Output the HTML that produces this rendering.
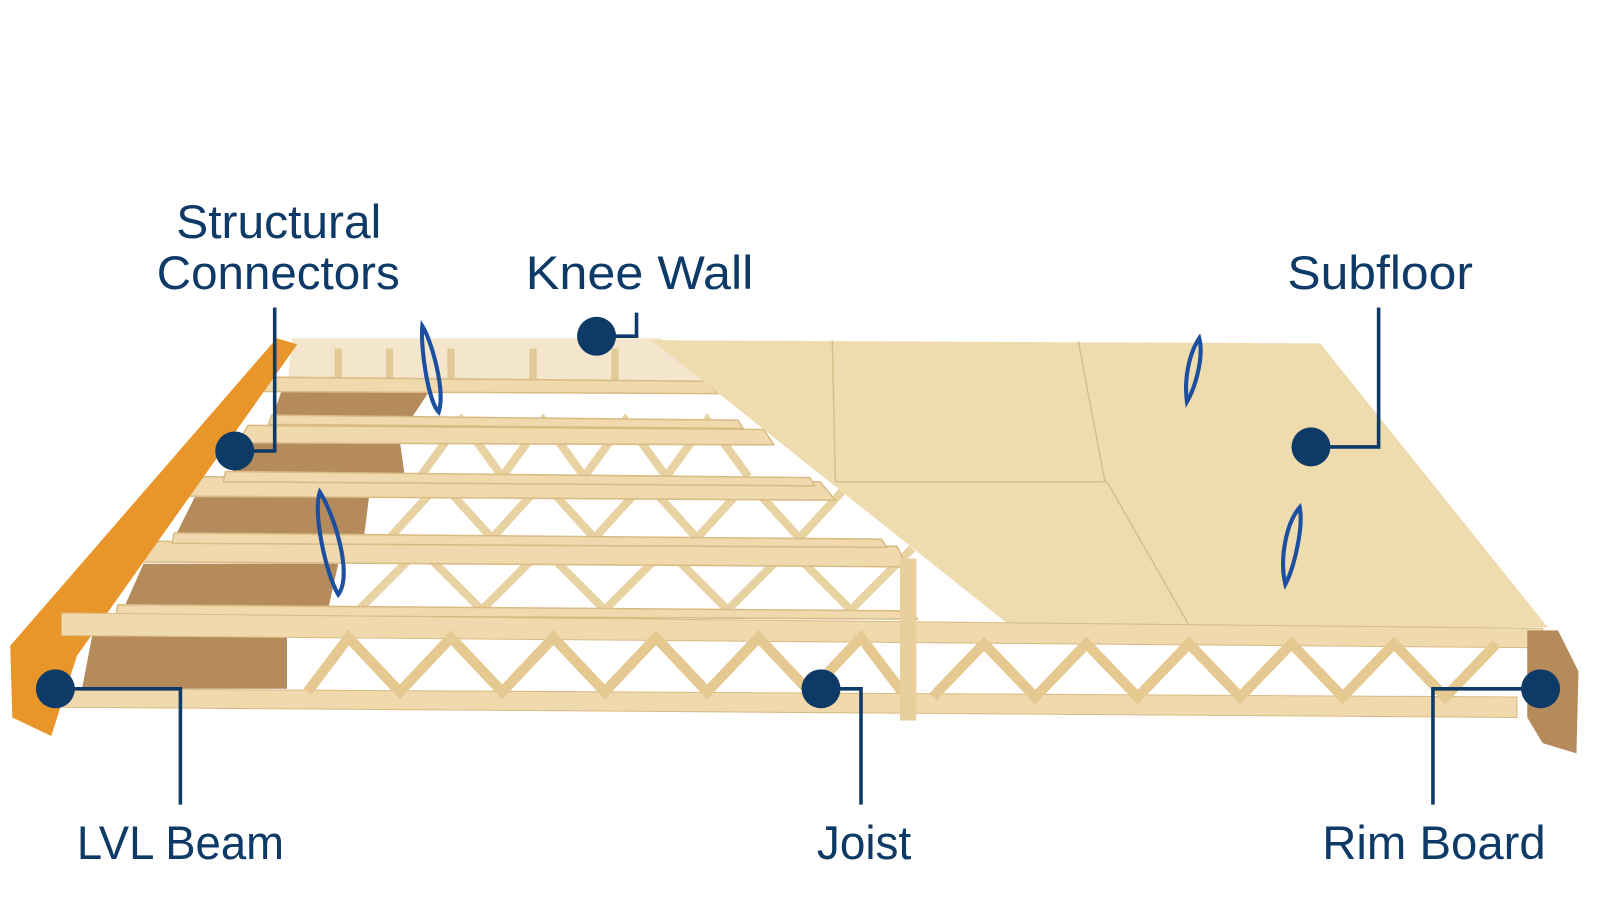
<!DOCTYPE html>
<html><head><meta charset="utf-8"><style>
html,body{margin:0;padding:0;background:#fff;}
svg{display:block}
text{font-family:"Liberation Sans",sans-serif;fill:#0d3a66;font-size:46px;}
</style></head><body>
<svg width="1600" height="900" viewBox="0 0 1600 900" xmlns="http://www.w3.org/2000/svg">
<g transform="scale(1.025)">
<!-- back knee wall -->
<polygon points="285,330 645,330 700,380 280,380" fill="#f3e6cc"/>
<g stroke="#e2c995" stroke-width="7">
<line x1="330" y1="340" x2="330" y2="372"/><line x1="380" y1="340" x2="380" y2="372"/><line x1="440" y1="340" x2="440" y2="372"/><line x1="520" y1="340" x2="520" y2="372"/><line x1="600" y1="340" x2="600" y2="372"/>
</g>
<!-- OSB blocks -->
<polygon points="275,380 420,380 400,410 265,410" fill="#b58b5c"/>
<polygon points="240,430 390,430 395,465 225,465" fill="#b58b5c"/>
<polygon points="190,485 360,485 355,525 170,525" fill="#b58b5c"/>
<polygon points="140,550 330,550 320,595 120,595" fill="#b58b5c"/>
<polygon points="90,620 280,620 280,672 80,672" fill="#b58b5c"/>
<!-- webs of inner joists -->
<g stroke="#e9d2a2" stroke-width="8" fill="none">
<polyline points="410,465 450,410 490,465 530,410 570,465 610,410 650,465 690,410 730,465"/>
<polyline points="380,525 430,470 480,525 530,470 580,525 630,470 680,525 730,470 780,525 830,470"/>
<polyline points="350,595 410,535 470,595 530,535 590,595 650,535 710,595 770,535 830,595 890,535"/>
</g>
<!-- inner joist chords -->
<g fill="#efd9ad" stroke="#d9bb84" stroke-width="1.5">
<polygon points="265,368 690,372 700,384 255,382"/>
<polygon points="242,415 745,419 755,434 232,432"/>
<polygon points="190,465 800,470 815,488 178,484"/>
<polygon points="135,528 875,533 885,553 122,548"/>
<polygon points="265,405 720,410 725,418 262,414"/>
<polygon points="220,460 790,466 795,474 218,470"/>
<polygon points="170,520 860,526 865,534 168,530"/>
<polygon points="115,590 890,596 895,604 113,600"/>
</g>
<!-- subfloor -->
<polygon points="636,332 1288,335 1510,612 985,610" fill="#eedcae"/>
<g stroke="#d8bf88" stroke-width="1.5" fill="none">
<line x1="812" y1="332" x2="815" y2="470"/><line x1="1052" y1="333" x2="1078" y2="470"/>
<line x1="815" y1="470" x2="1080" y2="470"/><line x1="1080" y1="470" x2="1160" y2="610"/>
</g>
<!-- LVL beam -->
<polygon points="270,330 290,336 75,640 50,718 12,700 10,630" fill="#e8962a"/>
<!-- front joist -->
<polygon points="60,598 1505,613 1505,632 60,620" fill="#efd9ad" stroke="#d9bb84"/>
<polygon points="60,672 1480,680 1480,700 60,690" fill="#efd9ad" stroke="#d9bb84"/>
<g stroke="#e5c991" stroke-width="10" fill="none">
<polyline points="300,675 340,622 390,675 440,622 490,675 540,622 590,675 640,622 690,675 740,622 790,675 840,622 880,675"/>
<polyline points="910,680 960,628 1010,680 1060,628 1110,680 1160,628 1210,680 1260,628 1310,680 1360,628 1410,680 1460,628"/>
</g>
<rect x="878" y="545" width="16" height="158" fill="#e8cf9c"/>
<!-- rim board -->
<polygon points="1490,615 1520,615 1540,655 1538,735 1505,725 1490,700" fill="#b58b5c"/>
<!-- straps -->
<g stroke="#1c4fa0" stroke-width="4" fill="none">
<path d="M412,318 C420,330 435,380 428,402 C418,392 410,340 412,318Z"/>
<path d="M312,480 C325,500 345,560 330,580 C318,560 305,500 312,480Z"/>
<path d="M1170,330 C1175,350 1165,380 1158,392 C1155,370 1160,345 1170,330Z"/>
<path d="M1268,495 C1272,515 1262,555 1254,570 C1248,545 1255,510 1268,495Z"/>
</g>
<!-- callouts -->
<g stroke="#0d3a66" stroke-width="3.5" fill="none">
<polyline points="582,328 621,328 621,305"/>
<polyline points="229,440 268,440 268,300"/>
<polyline points="1279,436 1345,436 1345,300"/>
<polyline points="54,672 176,672 176,785"/>
<polyline points="801,672 840,672 840,785"/>
<polyline points="1503,672 1398,672 1398,785"/>
</g>
<g fill="#0d3a66">
<circle cx="582" cy="328" r="19"/><circle cx="229" cy="440" r="19"/><circle cx="1279" cy="436" r="19"/>
<circle cx="54" cy="672" r="19"/><circle cx="801" cy="672" r="19"/><circle cx="1503" cy="672" r="19"/>
</g>
<text x="172" y="232" textLength="200" lengthAdjust="spacingAndGlyphs">Structural</text>
<text x="153" y="282" textLength="237" lengthAdjust="spacingAndGlyphs">Connectors</text>
<text x="513" y="282" textLength="222" lengthAdjust="spacingAndGlyphs">Knee Wall</text>
<text x="1256" y="282" textLength="181" lengthAdjust="spacingAndGlyphs">Subfloor</text>
<text x="75" y="838" textLength="202" lengthAdjust="spacingAndGlyphs">LVL Beam</text>
<text x="797" y="838" textLength="92" lengthAdjust="spacingAndGlyphs">Joist</text>
<text x="1290" y="838" textLength="218" lengthAdjust="spacingAndGlyphs">Rim Board</text>
</g>
</svg>
</body></html>
